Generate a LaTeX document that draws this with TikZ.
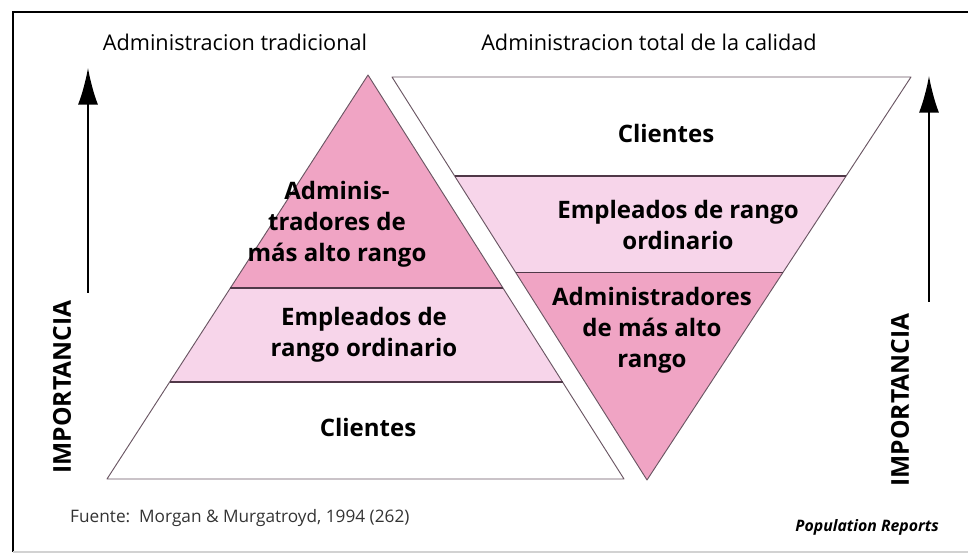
\documentclass[tikz,border=0pt]{standalone}
\usepackage{fontspec}
\setmainfont{Open Sans}
\usetikzlibrary{calc,arrows.meta}
\definecolor{rosaoscuro}{RGB}{240,164,196}
\definecolor{rosaclaro}{RGB}{247,213,234}
\definecolor{linea}{RGB}{80,56,72}

\begin{document}
\begin{tikzpicture}[x=0.03cm, y=0.03cm, >={Latex[length=1.1cm,width=0.6cm]},
    bandline/.style={draw=linea, line width=1.1pt},
    edgeline/.style={draw=linea!85, line width=0.8pt, line join=round},
    layertext/.style={font=\fontsize{20.5}{26.5}\selectfont\bfseries, align=center, inner sep=0pt},
    titletext/.style={font=\fontsize{18.5}{21}\selectfont, inner sep=0pt},
    axistext/.style={font=\fontsize{21}{23}\selectfont\bfseries, rotate=90, inner sep=0pt},
    axisarrow/.style={->, line width=1.6pt}]
    \useasboundingbox (0,0) rectangle (968,559);
    % marco
    \draw[line width=1.2pt] (13,7) -- (13,547) -- (968,547);
    \draw[gray!35, line width=1pt] (13,7) -- (968,7);
    % titulos
    \node[titletext] (titulotrad) at (235,517) {Administracion tradicional};
    \node[titletext] (titulototal) at (649,517) {Administracion total de la calidad};
    % piramide tradicional
    \coordinate (pl) at (107,80);
    \coordinate (pr) at (624,80);
    \coordinate (pa) at (368,484);
    \coordinate (pl1) at ($(pl)!0.240!(pa)$);
    \coordinate (pr1) at ($(pr)!0.240!(pa)$);
    \coordinate (pl2) at ($(pl)!0.473!(pa)$);
    \coordinate (pr2) at ($(pr)!0.473!(pa)$);
    \fill[rosaclaro] (pl1) -- (pr1) -- (pr2) -- (pl2) -- cycle;
    \fill[rosaoscuro] (pl2) -- (pr2) -- (pa) -- cycle;
    \draw[edgeline] (pl) -- (pr) -- (pa) -- cycle;
    \draw[bandline] (pl1) -- (pr1);
    \draw[bandline] (pl2) -- (pr2);
    \node[layertext] (altotrad) at (337,335) {Adminis-\\tradores de\\más alto rango};
    \node[layertext] (empleadostrad) at (364,224) {Empleados de\\rango ordinario};
    \node[layertext] (clientestrad) at (368,132) {Clientes};
    % piramide invertida
    \coordinate (il) at (392,482);
    \coordinate (ir) at (911,482);
    \coordinate (ia) at (647,79);
    \coordinate (il1) at ($(ia)!0.514!(il)$);
    \coordinate (ir1) at ($(ia)!0.514!(ir)$);
    \coordinate (il2) at ($(ia)!0.754!(il)$);
    \coordinate (ir2) at ($(ia)!0.754!(ir)$);
    \fill[rosaoscuro] (ia) -- (ir1) -- (il1) -- cycle;
    \fill[rosaclaro] (il1) -- (ir1) -- (ir2) -- (il2) -- cycle;
    \draw[edgeline] (il) -- (ir) -- (ia) -- cycle;
    \draw[bandline] (il1) -- (ir1);
    \draw[bandline] (il2) -- (ir2);
    \node[layertext] (clientestotal) at (666,426) {Clientes};
    \node[layertext] (empleadostotal) at (678,334) {Empleados de rango\\ordinario};
    \node[layertext] (altototal) at (652,229) {Administradores\\de más alto\\rango};
    % ejes de importancia
    \node[axistext] (impizq) at (62,172) {IMPORTANCIA};
    \node[axistext] (impder) at (900,159) {IMPORTANCIA};
    \coordinate (fi0) at (88,266);
    \coordinate (fi1) at (88,491);
    \coordinate (fd0) at (929,257);
    \coordinate (fd1) at (929,483);
    \draw[axisarrow] (fi0) -- (fi1);
    \draw[axisarrow] (fd0) -- (fd1);
    % pie
    \node[font=\fontsize{14.7}{16}\selectfont, text=black!80, anchor=west, inner sep=0pt] (fuente) at (70,41) {Fuente:\ \ Morgan \& Murgatroyd, 1994 (262)};
    \node[font=\fontsize{13.5}{15}\selectfont\bfseries\itshape, anchor=east, inner sep=0pt] (reports) at (939,32) {Population Reports};
\end{tikzpicture}
\end{document}
